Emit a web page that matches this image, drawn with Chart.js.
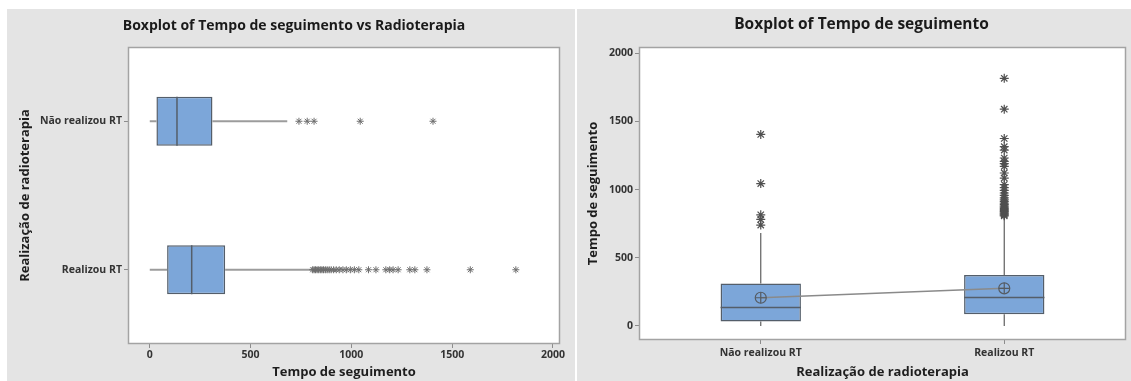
<!DOCTYPE html>
<html>
<head>
<meta charset="utf-8">
<script src="https://cdn.jsdelivr.net/npm/chart.js@4.4.0/dist/chart.umd.min.js"></script>
<style>
  html, body { margin: 0; padding: 0; background: #ffffff; width: 1131px; height: 381px; overflow: hidden; }
  .panel { position: absolute; top: 9px; height: 372px; background: #e4e4e4; overflow: hidden; }
  #p1 { left: 7px; width: 568px; }
  #p2 { left: 577px; width: 554px; }
  canvas { position: absolute; top: 0; left: 0; }
</style>
</head>
<body>
<div class="panel" id="p1"><canvas id="c1" width="574" height="372"></canvas></div>
<div class="panel" id="p2"><canvas id="c2" width="569" height="372"></canvas></div>
<script>
// Follow-up time (days) by radiotherapy status
const categories = ['Não realizou RT', 'Realizou RT'];
const whiskerLow = [0, 0];
const q1 = [33, 86];
const medians = [135, 208];
const q3 = [311, 374];
const whiskerHigh = [682, 802];
const means = [207, 276];
const outliersNaoRealizou = [740, 781, 815, 1044, 1405];
const outliersRealizou = [808, 815, 822, 830, 838, 846, 854, 862, 871, 880, 890, 900, 912, 925, 940,
  958, 975, 995, 1015, 1037, 1085, 1122, 1171, 1190, 1207, 1232, 1290, 1315, 1375, 1590, 1816];
const valueTicks = [0, 500, 1000, 1500, 2000];

const outliers = [outliersNaoRealizou, outliersRealizou];

const FONT = "'Segoe UI', 'Open Sans', sans-serif";
Chart.defaults.font.family = FONT;
Chart.defaults.color = '#222';

const BOX_FILL = '#7ca6d9';
const BOX_EDGE = '#545e6a';
const BOX_SPAN = 0.33;              // box thickness as a share of one category slot

// white plot area with a thin grey frame
const plotFrame = {
  id: 'plotFrame',
  beforeDraw(chart) {
    const { ctx, chartArea: a } = chart;
    ctx.save();
    ctx.fillStyle = '#ffffff';
    ctx.fillRect(a.left, a.top, a.right - a.left, a.bottom - a.top);
    ctx.restore();
  },
  afterDraw(chart) {
    const { ctx, chartArea: a } = chart;
    ctx.save();
    ctx.strokeStyle = '#a3a3a3';
    ctx.lineWidth = 1.5;
    ctx.strokeRect(a.left + 0.5, a.top + 0.5, a.right - a.left - 1, a.bottom - a.top - 1);
    ctx.restore();
  }
};

function boxplotDatasets(horizontal, s) {
  const P = (v, c) => horizontal ? { x: v, y: c } : { x: c, y: v };
  const sets = [];
  sets.push({
    type: 'bar',
    indexAxis: horizontal ? 'y' : 'x',
    data: categories.map((_, i) => horizontal
      ? { y: i + 0.5, x: [q1[i], q3[i]] }
      : { x: i + 0.5, y: [q1[i], q3[i]] }),
    backgroundColor: BOX_FILL,
    borderColor: BOX_EDGE,
    borderWidth: 1.5,
    borderSkipped: false,
    categoryPercentage: 1,
    barPercentage: BOX_SPAN,
    order: 5
  });
  const seg = (pts, color, width, order) => ({
    type: 'scatter', showLine: true, data: pts, pointRadius: 0,
    borderColor: color, borderWidth: width, order
  });
  categories.forEach((_, i) => {
    const c = i + 0.5;
    sets.push(seg([P(whiskerLow[i], c), P(q1[i], c)], s.whisker, s.whiskerWidth, 6));
    sets.push(seg([P(q3[i], c), P(whiskerHigh[i], c)], s.whisker, s.whiskerWidth, 6));
    sets.push(seg([P(medians[i], c - BOX_SPAN / 2), P(medians[i], c + BOX_SPAN / 2)], BOX_EDGE, 1.5, 3));
    sets.push({
      type: 'scatter',
      data: outliers[i].map(v => P(v, c)),
      pointStyle: 'star', pointRadius: s.starRadius, pointBorderColor: s.star,
      pointBorderWidth: s.starWidth, pointBackgroundColor: s.star, order: 1
    });
  });
  if (s.showMeans) {
    sets.push(seg(means.map((m, i) => P(m, i + 0.5)), '#8a8a8a', 1.5, 2));
    sets.push({
      type: 'scatter', data: means.map((m, i) => P(m, i + 0.5)),
      pointStyle: 'circle', pointRadius: 5.5, pointBorderColor: '#555b62',
      pointBorderWidth: 1.2, pointBackgroundColor: 'rgba(0,0,0,0)', order: 0
    });
    sets.push({
      type: 'scatter', data: means.map((m, i) => P(m, i + 0.5)),
      pointStyle: 'cross', pointRadius: 5.5, pointBorderColor: '#555b62',
      pointBorderWidth: 1.2, order: 0
    });
  }
  return sets;
}

const AXIS_TITLE_FONT = { size: 13, weight: 'bold' };

function valueAxis(axis, range, title, fit, tickFont, titlePad) {
  return {
    type: 'linear', axis, min: range[0], max: range[1], bounds: 'data', offset: false,
    afterBuildTicks: sc => { sc.ticks = valueTicks.map(v => ({ value: v })); },
    grid: { drawOnChartArea: false, drawTicks: true, tickLength: 4, color: '#8c8c8c', offset: false },
    border: { display: false },
    ticks: {
      padding: axis === 'x' ? 1 : 2, autoSkip: false, maxRotation: 0, font: tickFont, color: '#333333',
      callback: v => String(v)
    },
    title: { display: true, text: title, font: AXIS_TITLE_FONT, color: '#1e1e1e', padding: titlePad },
    afterFit: fit
  };
}

function categoryAxis(axis, reverse, title, fit, tickFont, titlePad, tickPad) {
  return {
    type: 'linear', axis, min: 0, max: categories.length, reverse, bounds: 'data', offset: false,
    afterBuildTicks: sc => { sc.ticks = categories.map((_, i) => ({ value: i + 0.5 })); },
    grid: { drawOnChartArea: false, drawTicks: true, tickLength: 4, color: '#8c8c8c', offset: false },
    border: { display: false },
    ticks: {
      padding: tickPad, autoSkip: false, maxRotation: 0, font: tickFont, color: '#333333',
      callback: v => categories[Math.floor(v)]
    },
    title: { display: true, text: title, font: AXIS_TITLE_FONT, color: '#1e1e1e', padding: titlePad },
    afterFit: fit
  };
}

const spacer = w => ({
  type: 'linear', axis: 'y', position: 'right', display: true,
  grid: { display: false }, border: { display: false }, ticks: { display: false },
  afterFit: sc => { sc.width = w; }
});

const common = {
  responsive: false,
  animation: false,
  events: [],
  layout: { padding: 0 }
};

const TICK_FONT = { size: 10.5, weight: 'bold' };

// Horizontal boxplot
new Chart(document.getElementById('c1'), {
  type: 'bar',
  data: { datasets: boxplotDatasets(true, { whisker: '#9c9c9c', whiskerWidth: 2, star: '#6e6e6e', starRadius: 3.5, starWidth: 1, showMeans: false }) },
  options: Object.assign({}, common, {
    plugins: {
      legend: { display: false }, tooltip: { enabled: false },
      title: { display: true, text: 'Boxplot of Tempo de seguimento vs Radioterapia',
        font: { size: 14, weight: 'bold' }, color: '#1a1a1a', padding: { top: 9, bottom: 12.2 } }
    },
    scales: {
      x: valueAxis('x', [-108, 2035], 'Tempo de seguimento', sc => { sc.height = 37; }, TICK_FONT, { top: 0, bottom: 1.2 }),
      y: categoryAxis('y', true, 'Realização de radioterapia', sc => { sc.width = 121; }, TICK_FONT, { top: 10, bottom: 0 }, 2),
      pad: spacer(21)
    }
  }),
  plugins: [plotFrame]
});

// Vertical boxplot with connected means
new Chart(document.getElementById('c2'), {
  type: 'bar',
  data: { datasets: boxplotDatasets(false, { whisker: '#5e5e5e', whiskerWidth: 1.2, star: '#505050', starRadius: 4.5, starWidth: 1.2, showMeans: true }) },
  options: Object.assign({}, common, {
    plugins: {
      legend: { display: false }, tooltip: { enabled: false },
      title: { display: true, text: 'Boxplot of Tempo de seguimento',
        font: { size: 15.5, weight: 'bold' }, color: '#1a1a1a', padding: { top: 6.7, bottom: 12.7 } }
    },
    scales: {
      x: categoryAxis('x', false, 'Realização de radioterapia', sc => { sc.height = 41; }, TICK_FONT, { top: 0, bottom: 1.2 }, 3),
      y: valueAxis('y', [-103, 2046], 'Tempo de seguimento', sc => { sc.width = 62; }, TICK_FONT, { top: 8.5, bottom: 0 }),
      pad: spacer(20)
    }
  }),
  plugins: [plotFrame]
});
</script>
</body>
</html>
